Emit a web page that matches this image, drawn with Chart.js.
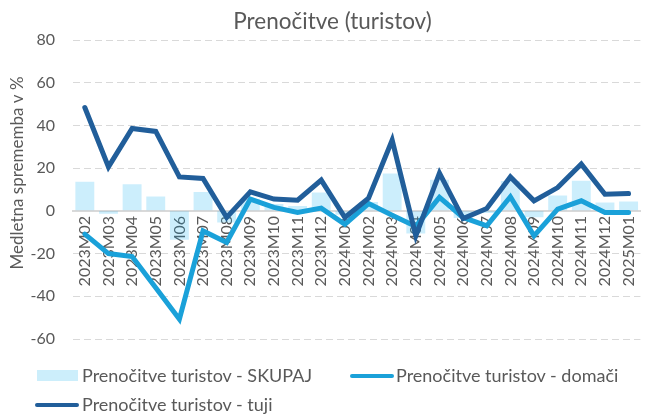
<!DOCTYPE html>
<html>
<head>
<meta charset="utf-8">
<script src="https://cdn.jsdelivr.net/npm/chart.js@4/dist/chart.umd.min.js"></script>
<style>
  html, body { margin: 0; padding: 0; background: #fff; }
  #wrap { position: relative; width: 653px; height: 414px; font-family: Lato, "Open Sans", sans-serif; color: #595959; }
  #chart { position: absolute; left: 0; top: 0; }
  .title { position: absolute; left: 6px; width: 653px; top: 7px; text-align: center; font-size: 22.5px; line-height: 28px; }
  .leg { position: absolute; font-size: 18px; white-space: nowrap; line-height: 24px; }
  .sw-box { position: absolute; width: 41px; height: 11px; background: #CCEEFB; }
  .sw-line { position: absolute; width: 44px; height: 4px; border-radius: 2px; }
</style>
</head>
<body>
<div id="wrap">
  <canvas id="chart" width="653" height="414"></canvas>
  <div class="title">Prenočitve (turistov)</div>
  <div class="sw-box" style="left:37px; top:370px;"></div>
  <div class="leg" style="left:82px; top:363px;">Prenočitve turistov - SKUPAJ</div>
  <div class="sw-line" style="left:350px; top:374px; background:#1AA1D9;"></div>
  <div class="leg" style="left:396px; top:363px;">Prenočitve turistov - domači</div>
  <div class="sw-line" style="left:35px; top:403px; background:#215E9A;"></div>
  <div class="leg" style="left:82px; top:392px;">Prenočitve turistov - tuji</div>
</div>
<script>
const categories = ["2023M02","2023M03","2023M04","2023M05","2023M06","2023M07","2023M08","2023M09","2023M10","2023M11","2023M12","2024M01","2024M02","2024M03","2024M04","2024M05","2024M06","2024M07","2024M08","2024M09","2024M10","2024M11","2024M12","2025M01"];
const skupaj = [13.6, -1.3, 12.5, 6.7, -13.5, 8.8, -5.5, 5.5, 3.2, 2.3, 8.6, -1.8, 4.2, 17.5, -10.6, 14.6, -3.4, -1.0, 14.0, -3.0, 7.2, 14.1, 3.9, 4.4];
const domaci = [-10.9, -20.0, -21.4, -36.0, -50.7, -9.4, -14.8, 5.5, 1.6, -0.8, 1.3, -6.3, 3.4, -2.0, -7.3, 6.3, -3.1, -7.0, 6.6, -11.7, 0.8, 4.7, -0.8, -0.8];
const tuji = [48.4, 20.6, 38.6, 37.2, 15.9, 15.2, -3.1, 8.9, 5.5, 5.0, 14.4, -3.1, 5.9, 33.1, -11.7, 17.7, -3.6, 1.1, 15.9, 4.7, 10.9, 21.9, 7.8, 8.1];
const yTicks = [-60, -40, -20, 0, 20, 40, 60, 80];
const seriesNames = ["Prenočitve turistov - SKUPAJ", "Prenočitve turistov - domači", "Prenočitve turistov - tuji"];
const yTitle = "Medletna sprememba v %";

const FONT = 'Lato, "Open Sans", sans-serif';
const TXT = '#595959';

const yTitlePlugin = {
  id: 'yTitle',
  afterDraw(chart) {
    const ctx = chart.ctx;
    ctx.save();
    ctx.translate(18, 173);
    ctx.rotate(-Math.PI / 2);
    ctx.font = '17px ' + FONT;
    ctx.fillStyle = TXT;
    ctx.textAlign = 'center';
    ctx.textBaseline = 'middle';
    ctx.fillText(yTitle, 0, 0);
    ctx.restore();
  }
};

new Chart(document.getElementById('chart'), {
  data: {
    labels: categories,
    datasets: [
      { type: 'line', label: seriesNames[2], data: tuji, borderColor: '#215E9A', backgroundColor: '#215E9A', borderWidth: 5, pointRadius: 0, tension: 0, borderCapStyle: 'round', order: 0 },
      { type: 'line', label: seriesNames[1], data: domaci, borderColor: '#1AA1D9', backgroundColor: '#1AA1D9', borderWidth: 5, pointRadius: 0, tension: 0, borderCapStyle: 'round', order: 1 },
      { type: 'bar', label: seriesNames[0], data: skupaj, backgroundColor: 'rgba(0,170,240,0.2)', categoryPercentage: 1.0, barPercentage: 0.8, order: 2 }
    ]
  },
  options: {
    responsive: false,
    animation: false,
    events: [],
    layout: { padding: { top: 40, right: 10, bottom: 75, left: 0 } },
    plugins: { legend: { display: false }, title: { display: false }, tooltip: { enabled: false } },
    scales: {
      x: {
        position: { y: 0 },
        offset: true,
        grid: { display: false, drawTicks: false },
        border: { display: true, color: '#D9D9D9', width: 2 },
        ticks: { autoSkip: false, maxRotation: 90, minRotation: 90, padding: 5, color: TXT, font: { family: FONT, size: 16 } }
      },
      y: {
        min: -60, max: 80,
        afterBuildTicks(scale) { scale.ticks = yTicks.map(v => ({ value: v })); },
        afterFit(scale) { scale.width = 73; },
        grid: { color: '#D9D9D9', lineWidth: 1, drawTicks: false },
        border: { display: false, dash: [7, 4] },
        ticks: { padding: 18, color: TXT, font: { family: FONT, size: 16 } }
      }
    }
  },
  plugins: [yTitlePlugin]
});
</script>
</body>
</html>
